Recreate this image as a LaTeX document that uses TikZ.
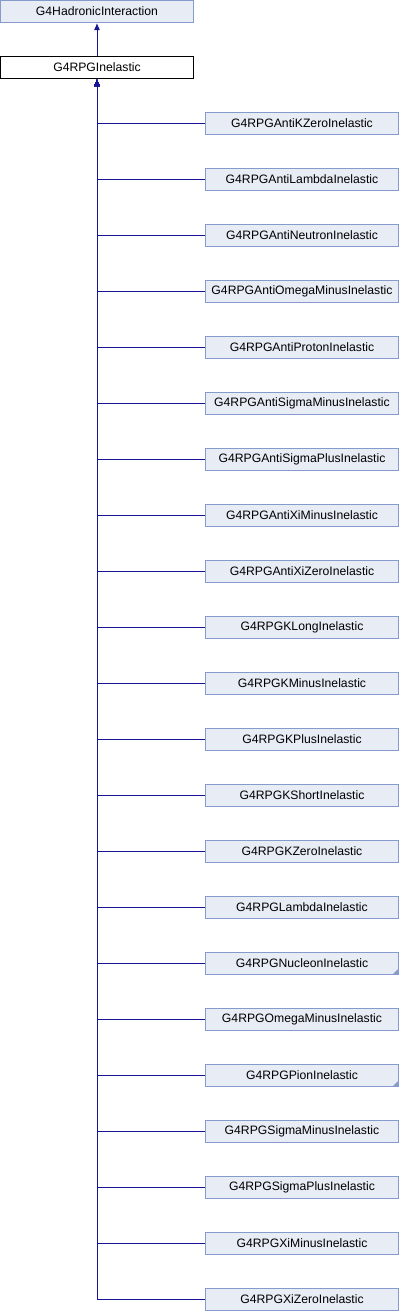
\documentclass[tikz,border=0pt]{standalone}
\usepackage{fontspec}
\setmainfont{Liberation Sans}
\usetikzlibrary{arrows.meta}
\definecolor{boxfill}{RGB}{232,236,245}
\definecolor{boxline}{RGB}{132,155,204}
\definecolor{edgecol}{RGB}{20,20,150}

\begin{document}
\begin{tikzpicture}[x=1pt, y=-1pt, font=\fontsize{12.2}{15}\selectfont,
  cls/.style={draw=boxline, fill=boxfill, line width=1pt, minimum width=193pt,
    minimum height=22pt, inner sep=0pt},
  focus/.style={draw=black, fill=white, line width=1pt, minimum width=193pt,
    minimum height=22pt, inner sep=0pt},
  edge/.style={draw=edgecol, line width=1pt, -{Latex[length=7pt,width=6pt]}}]
  \useasboundingbox (0,0) rectangle (400,1312);
  % === Bazove tridy ===
  \node[cls] (hadr) at (97,11.5) {G4HadronicInteraction};
  \node[focus] (inel) at (97,67.5) {G4RPGInelastic};
  \draw[edge] (inel.north) -- (hadr.south);
  % === Odvozene tridy ===
  \foreach \name [count=\i from 0] in {AntiKZero,AntiLambda,AntiNeutron,
      AntiOmegaMinus,AntiProton,AntiSigmaMinus,AntiSigmaPlus,AntiXiMinus,
      AntiXiZero,KLong,KMinus,KPlus,KShort,KZero,Lambda,Nucleon,OmegaMinus,
      Pion,SigmaMinus,SigmaPlus,XiMinus,XiZero} {
    \node[cls] (c\i) at (302,{123.5+56*\i}) {G4RPG\name Inelastic};
    \draw[edge] (c\i.west) -| (inel.south);
  }
  % === Tridy s dalsimi potomky ===
  \foreach \k in {15,17}
    \fill[boxline] ([shift={(-0.5,-0.5)}]c\k.south east) -- ++(-6,0) -- ++(6,-6) -- cycle;
\end{tikzpicture}
\end{document}
